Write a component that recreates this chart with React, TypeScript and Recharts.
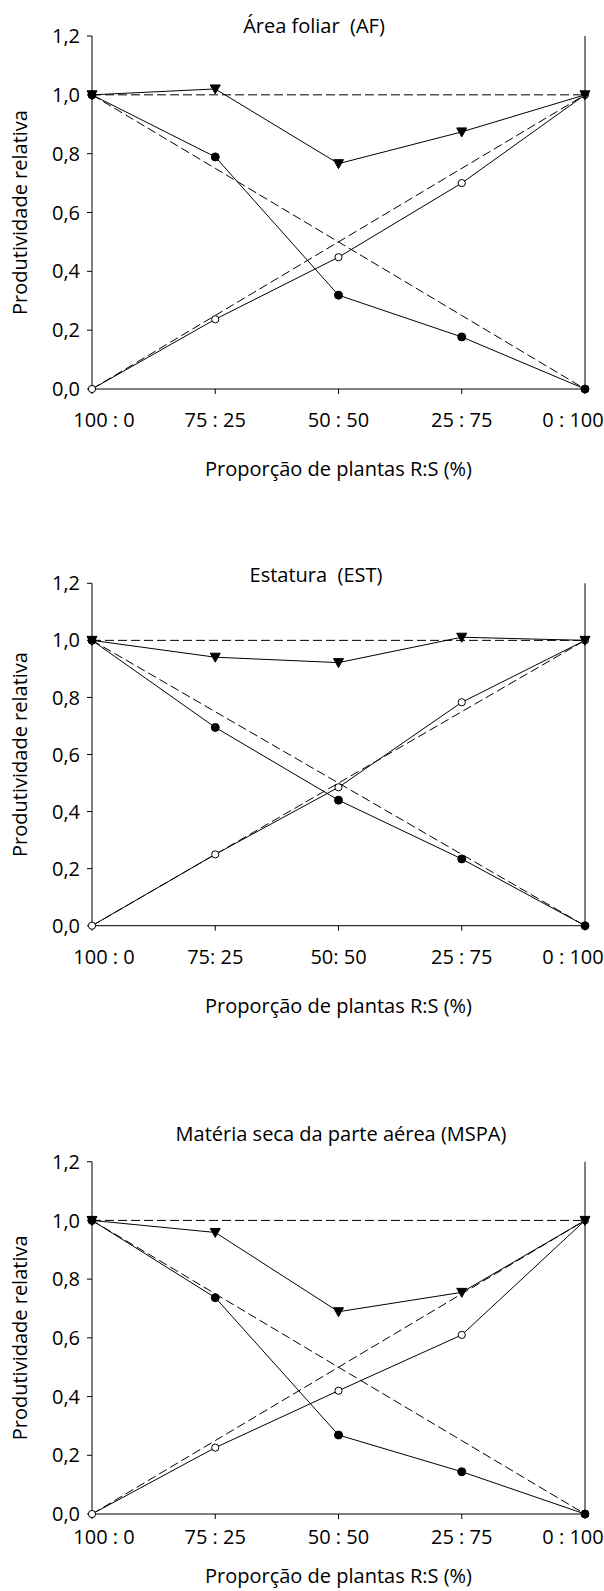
import React from "react";
import { LineChart, Line, XAxis, YAxis, ReferenceLine } from "recharts";

// x categories (proporção R:S)
const categories = ["100 : 0", "75 : 25", "50 : 50", "25 : 75", "0 : 100"];
const categoriesEst = ["100 : 0", "75: 25", "50: 50", "25 : 75", "0 : 100"];
const yTicks = [0, 0.2, 0.4, 0.6, 0.8, 1.0, 1.2];

// expected (dashed) lines
const expectedTotal = [1, 1, 1, 1, 1];
const expectedR = [1, 0.75, 0.5, 0.25, 0];
const expectedS = [0, 0.25, 0.5, 0.75, 1];

// Área foliar (AF)
const afTotal = [1.0, 1.02, 0.766, 0.874, 1.0];
const afR = [1.0, 0.789, 0.319, 0.177, 0];
const afS = [0, 0.237, 0.448, 0.7, 1.0];

// Estatura (EST)
const estTotal = [1.0, 0.941, 0.922, 1.011, 1.0];
const estR = [1.0, 0.695, 0.44, 0.234, 0];
const estS = [0, 0.25, 0.485, 0.783, 1.0];

// Matéria seca da parte aérea (MSPA)
const mspaTotal = [1.0, 0.959, 0.689, 0.755, 1.0];
const mspaR = [1.0, 0.737, 0.269, 0.144, 0];
const mspaS = [0, 0.226, 0.42, 0.61, 1.0];

const FONT = "Open Sans";

const filledDot = (p: any) => (
  <circle key={`f-${p.index}`} cx={p.cx} cy={p.cy} r={4} fill="#000" stroke="#000" strokeWidth={1} />
);
const openDot = (p: any) => (
  <circle key={`o-${p.index}`} cx={p.cx} cy={p.cy} r={3.6} fill="#fff" stroke="#000" strokeWidth={1} />
);
const triDot = (p: any) => (
  <path
    key={`t-${p.index}`}
    d={`M${p.cx - 5},${p.cy - 4} L${p.cx + 5},${p.cy - 4} L${p.cx},${p.cy + 5} Z`}
    fill="#000"
    stroke="#000"
    strokeWidth={1}
  />
);

const xTick = (p: any) => {
  const shift = p.index === 0 ? 12 : p.index === 4 ? -12 : 0;
  return (
    <text
      key={`xt-${p.index}`}
      x={p.x + shift}
      y={p.y}
      textAnchor="middle"
      fill="#000"
      fontSize={20}
      fontFamily={FONT}
      style={{ whiteSpace: "pre" }}
    >
      {p.payload.value}
    </text>
  );
};

type PanelProps = {
  top: number;
  height: number;
  plotTop: number;
  plotBottom: number;
  labels: string[];
  total: number[];
  r: number[];
  s: number[];
  tickBaseline: number;
  xTitleBaseline: number;
  title: string;
  titleX: number;
  titleBaseline: number;
};

function Panel(p: PanelProps) {
  const data = p.labels.map((label, i) => ({
    label,
    eT: expectedTotal[i],
    eR: expectedR[i],
    eS: expectedS[i],
    total: p.total[i],
    r: p.r[i],
    s: p.s[i],
  }));
  const xAxisHeight = p.height - p.plotBottom;
  return (
    <div style={{ position: "absolute", left: 0, top: p.top, width: 604, height: p.height }}>
      <div
        style={{
          position: "absolute",
          left: p.titleX - 250,
          width: 500,
          top: p.titleBaseline - 17.8,
          lineHeight: "20px",
          fontSize: 20,
          textAlign: "center",
          whiteSpace: "pre",
          fontFamily: FONT,
          color: "#000",
          zIndex: 1,
        }}
      >
        {p.title}
      </div>
      <LineChart
        width={604}
        height={p.height}
        data={data}
        margin={{ top: p.plotTop, right: 19, bottom: 0, left: 0 }}
        style={{ fontFamily: FONT }}
      >
        <XAxis
          dataKey="label"
          interval={0}
          height={xAxisHeight}
          tickSize={5}
          tickMargin={p.tickBaseline - 5}
          stroke="#000"
          tick={xTick}
          label={{
            value: "Proporção de plantas R:S (%)",
            position: "insideBottom",
            offset: xAxisHeight - p.xTitleBaseline,
            fill: "#000",
            fontSize: 20,
            fontFamily: FONT,
          }}
        />
        <YAxis
          width={92}
          domain={[0, 1.2]}
          ticks={yTicks}
          tickSize={5}
          tickMargin={7}
          stroke="#000"
          tick={{ fill: "#000", fontSize: 20, fontFamily: FONT }}
          tickFormatter={(v: number) => v.toFixed(1).replace(".", ",")}
          label={{
            value: "Produtividade relativa",
            angle: -90,
            position: "insideLeft",
            offset: 20,
            fill: "#000",
            fontSize: 20,
            fontFamily: FONT,
            style: { textAnchor: "middle" },
          }}
        />
        <ReferenceLine x="0 : 100" stroke="#000" strokeWidth={1} />
        <Line dataKey="eT" stroke="#000" strokeWidth={1} strokeDasharray="9 4" dot={false} activeDot={false} isAnimationActive={false} />
        <Line dataKey="eR" stroke="#000" strokeWidth={1} strokeDasharray="9 4" dot={false} activeDot={false} isAnimationActive={false} />
        <Line dataKey="eS" stroke="#000" strokeWidth={1} strokeDasharray="9 4" dot={false} activeDot={false} isAnimationActive={false} />
        <Line dataKey="s" stroke="#000" strokeWidth={1} dot={openDot} activeDot={false} isAnimationActive={false} />
        <Line dataKey="total" stroke="#000" strokeWidth={1} dot={triDot} activeDot={false} isAnimationActive={false} />
        <Line dataKey="r" stroke="#000" strokeWidth={1} dot={filledDot} activeDot={false} isAnimationActive={false} />
      </LineChart>
    </div>
  );
}

export default function App() {
  return (
    <div style={{ position: "absolute", left: 0, top: 0, width: 604, height: 1591, background: "#fff" }}>
      <Panel
        top={0}
        height={500}
        plotTop={36}
        plotBottom={389}
        labels={categories}
        total={afTotal}
        r={afR}
        s={afS}
        tickBaseline={38}
        xTitleBaseline={87}
        title="Área foliar  (AF)"
        titleX={314}
        titleBaseline={33.5}
      />
      <Panel
        top={540}
        height={500}
        plotTop={43.3}
        plotBottom={385.7}
        labels={categoriesEst}
        total={estTotal}
        r={estR}
        s={estS}
        tickBaseline={38}
        xTitleBaseline={87.6}
        title="Estatura  (EST)"
        titleX={316}
        titleBaseline={43}
      />
      <Panel
        top={1080}
        height={511}
        plotTop={81.7}
        plotBottom={434}
        labels={categories}
        total={mspaTotal}
        r={mspaR}
        s={mspaS}
        tickBaseline={30}
        xTitleBaseline={68.5}
        title="Matéria seca da parte aérea (MSPA)"
        titleX={341}
        titleBaseline={61.7}
      />
    </div>
  );
}
